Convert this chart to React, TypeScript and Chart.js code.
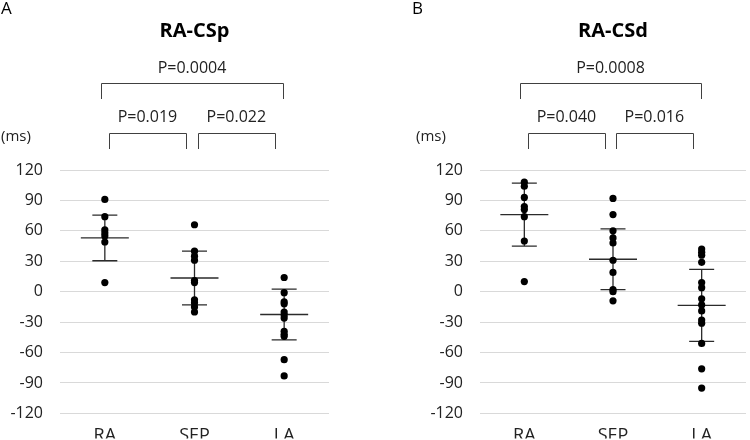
import React, { useEffect, useRef } from "react";
import { Chart, registerables } from "chart.js";

Chart.register(...registerables);

const categories = ["RA", "SEP", "LA"];
const yTicks = [-120, -90, -60, -30, 0, 30, 60, 90, 120];

// Panel A: RA-CSp
const cspRA = [91, 74, 61, 58, 55, 49, 9];
const cspSEP = [66, 40, 35, 31, 11, 9, -8, -11, -15, -20];
const cspLA = [14, -1, -10, -12, -20, -23, -26, -39, -42, -44, -67, -83];
const cspMean = [53, 13.5, -22.5];
const cspSD = [22.5, 26.5, 25];
const cspP = ["P=0.019", "P=0.022", "P=0.0004"];

// Panel B: RA-CSd
const csdRA = [108, 104, 93, 84, 81, 74, 50, 10];
const csdSEP = [92, 76, 60, 53, 48, 31, 19, 2, 0, -9];
const csdLA = [42, 39, 36, 29, 9, 4, -7, -13, -19, -28, -31, -51, -76, -95];
const csdMean = [76, 32, -13.5];
const csdSD = [31, 30, 35.5];
const csdP = ["P=0.040", "P=0.016", "P=0.0008"];

const FONT = "'Open Sans', 'DejaVu Sans', sans-serif";
const INK = "#222222";

type PanelProps = {
  letter: string;
  title: string;
  groups: number[][];
  mean: number[];
  sd: number[];
  pvals: string[];
  left: number;
  width: number;
  yAxisWidth: number;
  rightPad: number;
  letterX: number;
  msX: number;
};

function Panel(p: PanelProps) {
  const ref = useRef<HTMLCanvasElement | null>(null);
  useEffect(() => {
    if (!ref.current) return;
    const points = p.groups.flatMap((g, i) => g.map((v) => ({ x: categories[i], y: v })));
    const annot = {
      id: "annot",
      beforeDatasetsDraw(chart: any) {
        const ctx = chart.ctx;
        const xs = chart.scales.x;
        const ys = chart.scales.y;
        ctx.save();
        ctx.strokeStyle = "#2b2b2b";
        ctx.lineWidth = 1.3;
        p.mean.forEach((m, i) => {
          const x = xs.getPixelForValue(i);
          const yM = ys.getPixelForValue(m);
          const yT = ys.getPixelForValue(m + p.sd[i]);
          const yB = ys.getPixelForValue(m - p.sd[i]);
          ctx.beginPath();
          ctx.moveTo(x, yT);
          ctx.lineTo(x, yB);
          ctx.moveTo(x - 12.5, yT);
          ctx.lineTo(x + 12.5, yT);
          ctx.moveTo(x - 12.5, yB);
          ctx.lineTo(x + 12.5, yB);
          ctx.moveTo(x - 24, yM);
          ctx.lineTo(x + 24, yM);
          ctx.stroke();
        });
        ctx.restore();
      },
      afterDraw(chart: any) {
        const ctx = chart.ctx;
        const xs = chart.scales.x;
        const cx = [0, 1, 2].map((i) => xs.getPixelForValue(i));
        ctx.save();
        ctx.fillStyle = "#000";
        ctx.textBaseline = "middle";
        // panel letter
        ctx.font = `17px ${FONT}`;
        ctx.textAlign = "left";
        ctx.fillText(p.letter, p.letterX, 9);
        // unit
        ctx.font = `15px ${FONT}`;
        ctx.fillStyle = INK;
        ctx.fillText("(ms)", p.msX, 137);
        // title
        ctx.fillStyle = "#000";
        ctx.font = `bold 20px ${FONT}`;
        ctx.textAlign = "center";
        ctx.fillText(p.title, (cx[0] + cx[2]) / 2, 31);
        // brackets
        ctx.strokeStyle = "#404040";
        ctx.lineWidth = 1;
        const bracket = (x1: number, x2: number, yTop: number, yBot: number, label: string, ty: number) => {
          ctx.beginPath();
          ctx.moveTo(Math.round(x1) + 0.5, yBot);
          ctx.lineTo(Math.round(x1) + 0.5, yTop + 0.5);
          ctx.lineTo(Math.round(x2) + 0.5, yTop + 0.5);
          ctx.lineTo(Math.round(x2) + 0.5, yBot);
          ctx.stroke();
          ctx.fillStyle = INK;
          ctx.font = `16px ${FONT}`;
          ctx.fillText(label, (x1 + x2) / 2, ty);
        };
        bracket(cx[0] + 4, cx[1] - 8.5, 133, 149, p.pvals[0], 117);
        bracket(cx[1] + 3, cx[2] - 9, 133, 149, p.pvals[1], 117);
        bracket(cx[0] - 4, cx[2] - 1, 83, 99, p.pvals[2], 68);
        ctx.restore();
      },
    };
    const chart = new Chart(ref.current, {
      type: "line",
      data: {
        labels: categories,
        datasets: [
          {
            data: points as any,
            showLine: false,
            pointRadius: 3.6,
            pointBackgroundColor: "#000",
            pointBorderColor: "#000",
            pointBorderWidth: 0,
          },
        ],
      },
      options: {
        responsive: false,
        animation: false,
        layout: { padding: { top: 170, right: p.rightPad, left: 0, bottom: 0 } },
        plugins: { legend: { display: false }, tooltip: { enabled: false } },
        scales: {
          x: {
            type: "category",
            offset: true,
            grid: { display: false },
            border: { display: false },
            ticks: { font: { family: FONT, size: 18 }, color: INK, padding: 4 },
            afterFit: (s: any) => {
              s.height = 25;
            },
          },
          y: {
            min: -120,
            max: 120,
            afterBuildTicks: (s: any) => {
              s.ticks = yTicks.map((v) => ({ value: v }));
            },
            grid: { color: "#d9d9d9", drawTicks: false, lineWidth: 1 },
            border: { display: false },
            ticks: { font: { family: FONT, size: 16 }, color: INK, padding: 17 },
            afterFit: (s: any) => {
              s.width = p.yAxisWidth;
            },
          },
        },
      },
      plugins: [annot],
    } as any);
    return () => chart.destroy();
  }, []);
  return (
    <div style={{ position: "absolute", left: p.left, top: 0, width: p.width, height: 440 }}>
      <canvas ref={ref} width={p.width} height={440} style={{ display: "block" }} />
    </div>
  );
}

export default function App() {
  return (
    <div
      style={{
        position: "absolute",
        left: 0,
        top: 0,
        width: 750,
        height: 440,
        overflow: "hidden",
        background: "#fff",
      }}
    >
      <Panel
        letter="A"
        title="RA-CSp"
        groups={[cspRA, cspSEP, cspLA]}
        mean={cspMean}
        sd={cspSD}
        pvals={cspP}
        left={0}
        width={375}
        yAxisWidth={60}
        rightPad={46}
        letterX={1}
        msX={1}
      />
      <Panel
        letter="B"
        title="RA-CSd"
        groups={[csdRA, csdSEP, csdLA]}
        mean={csdMean}
        sd={csdSD}
        pvals={csdP}
        left={375}
        width={375}
        yAxisWidth={105}
        rightPad={0}
        letterX={37}
        msX={41}
      />
    </div>
  );
}
